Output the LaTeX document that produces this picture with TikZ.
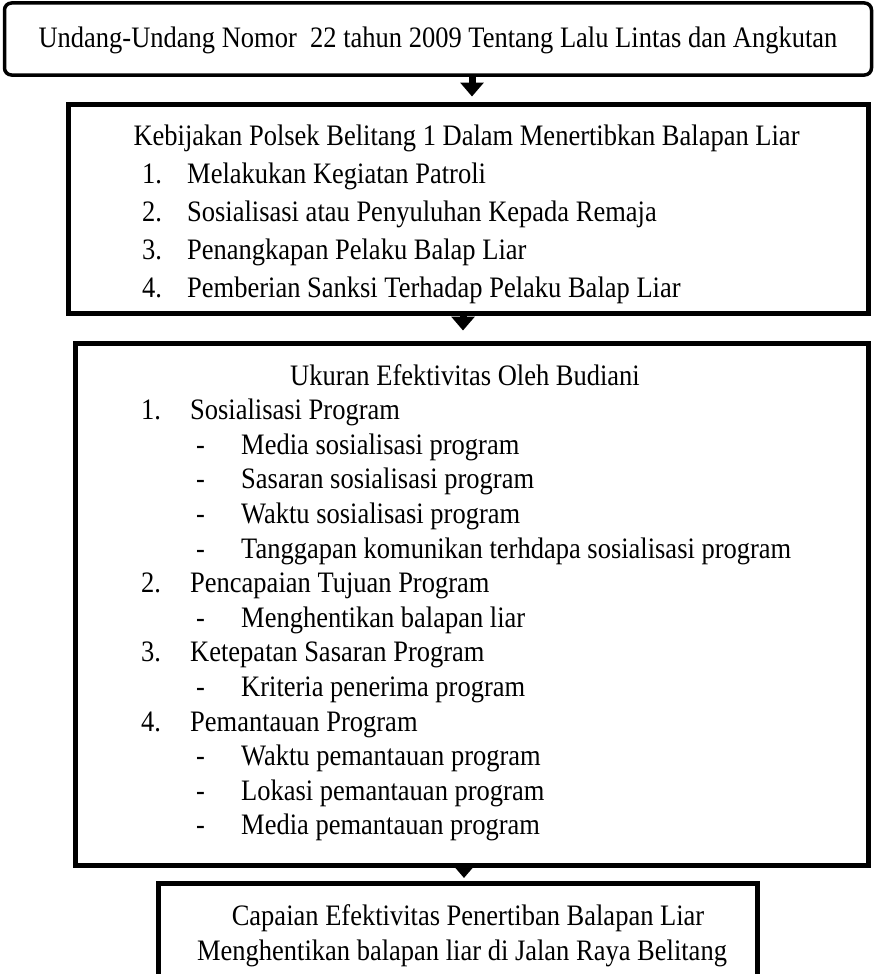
\documentclass[tikz,border=0pt]{standalone}
\usepackage{fontspec}
\setmainfont{Liberation Serif}
\usetikzlibrary{arrows.meta}
\newcommand{\tall}[1]{\scalebox{1}[1.12]{#1}}
\tikzset{
  box/.style={draw=black, fill=white, inner sep=0pt},
  thin box/.style={box, line width=3.5pt, rounded corners=7pt},
  thick box/.style={box, line width=5pt},
  arr/.style={line width=7pt, -{Triangle[length=14pt,width=23pt]}},
  txt/.style={inner sep=0pt, font=\fontsize{26.5}{30}\selectfont},
  lft/.style={txt, anchor=base west},
  ctr/.style={txt, anchor=base},
}
\begin{document}
\begin{tikzpicture}[x=1pt,y=-1pt]
\useasboundingbox (0,0) rectangle (874,974);
% boxes
\node[thin box, minimum width=867pt, minimum height=72pt] (b1) at (438,39) {};
\node[thick box, minimum width=800pt, minimum height=209pt] (b2) at (468,208.5) {};
\node[thick box, minimum width=793pt, minimum height=522pt] (b3) at (471.5,604) {};
\node[thick box, minimum width=599pt, minimum height=100pt] (b4) at (457.5,933) {};
% arrows
\draw[arr, shorten >=5pt] ([xshift=34pt]b1.south) -- ([xshift=34pt]b1.south |- b2.north);
\draw[arr, shorten >=10pt] ([xshift=-5pt]b2.south) -- ([xshift=-5pt]b2.south |- b3.north);
\draw[arr, shorten >=2.5pt] ([xshift=-7.5pt]b3.south) -- ([xshift=-7.5pt]b3.south |- b4.north);
% box 1
\node[ctr] (t1) at (438,48) {\tall{Undang-Undang Nomor\ \ 22 tahun 2009 Tentang Lalu Lintas dan Angkutan}};
% box 2
\node[ctr] (t2) at (466.5,145) {\tall{Kebijakan Polsek Belitang 1 Dalam Menertibkan Balapan Liar}};
\node[lft] (n21) at (142,183) {\tall{1.}};
\node[lft] (i21) at (187,183) {\tall{Melakukan Kegiatan Patroli}};
\node[lft] (n22) at (142,221) {\tall{2.}};
\node[lft] (i22) at (187,221) {\tall{Sosialisasi atau Penyuluhan Kepada Remaja}};
\node[lft] (n23) at (142,259) {\tall{3.}};
\node[lft] (i23) at (187,259) {\tall{Penangkapan Pelaku Balap Liar}};
\node[lft] (n24) at (142,297) {\tall{4.}};
\node[lft] (i24) at (187,297) {\tall{Pemberian Sanksi Terhadap Pelaku Balap Liar}};
% box 3
\node[ctr] (t3) at (465,385) {\tall{Ukuran Efektivitas Oleh Budiani}};
\node[lft] (n31) at (141,419.6) {\tall{1.}};
\node[lft] (i31) at (190,419.6) {\tall{Sosialisasi Program}};
\node[lft] (d311) at (196,454.2) {\tall{-}};
\node[lft] (s311) at (241,454.2) {\tall{Media sosialisasi program}};
\node[lft] (d312) at (196,488.8) {\tall{-}};
\node[lft] (s312) at (241,488.8) {\tall{Sasaran sosialisasi program}};
\node[lft] (d313) at (196,523.4) {\tall{-}};
\node[lft] (s313) at (241,523.4) {\tall{Waktu sosialisasi program}};
\node[lft] (d314) at (196,558) {\tall{-}};
\node[lft] (s314) at (241,558) {\tall{Tanggapan komunikan terhdapa sosialisasi program}};
\node[lft] (n32) at (141,592.6) {\tall{2.}};
\node[lft] (i32) at (190,592.6) {\tall{Pencapaian Tujuan Program}};
\node[lft] (d321) at (196,627.2) {\tall{-}};
\node[lft] (s321) at (241,627.2) {\tall{Menghentikan balapan liar}};
\node[lft] (n33) at (141,661.8) {\tall{3.}};
\node[lft] (i33) at (190,661.8) {\tall{Ketepatan Sasaran Program}};
\node[lft] (d331) at (196,696.4) {\tall{-}};
\node[lft] (s331) at (241,696.4) {\tall{Kriteria penerima program}};
\node[lft] (n34) at (141,731) {\tall{4.}};
\node[lft] (i34) at (190,731) {\tall{Pemantauan Program}};
\node[lft] (d341) at (196,765.6) {\tall{-}};
\node[lft] (s341) at (241,765.6) {\tall{Waktu pemantauan program}};
\node[lft] (d342) at (196,800.2) {\tall{-}};
\node[lft] (s342) at (241,800.2) {\tall{Lokasi pemantauan program}};
\node[lft] (d343) at (196,834.8) {\tall{-}};
\node[lft] (s343) at (241,834.8) {\tall{Media pemantauan program}};
% box 4
\node[ctr] (t41) at (468,925) {\tall{Capaian Efektivitas Penertiban Balapan Liar}};
\node[ctr] (t42) at (462,960) {\tall{Menghentikan balapan liar di Jalan Raya Belitang}};
\end{tikzpicture}
\end{document}
